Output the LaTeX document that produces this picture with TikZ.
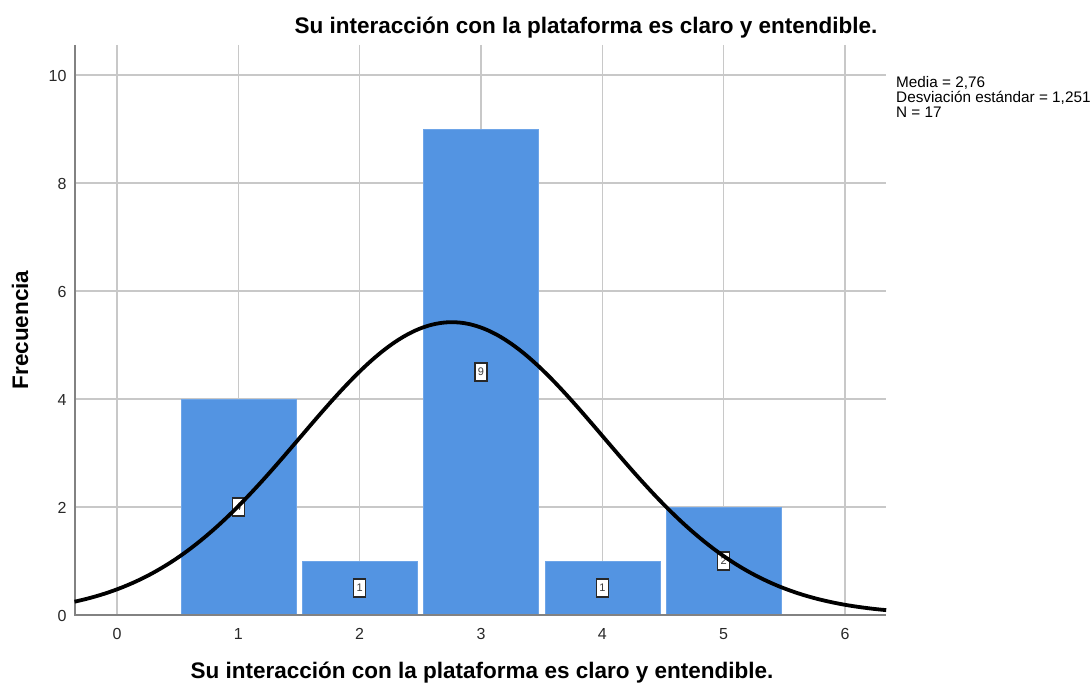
\documentclass[tikz,border=0pt]{standalone}
\usepackage{fontspec}
\setmainfont{Liberation Sans}
\begin{document}
\begin{tikzpicture}[x=1pt,y=-1pt,
  grid/.style={draw={rgb,255:red,200;green,200;blue,200},line width=1.4pt},
  axisline/.style={draw={rgb,255:red,130;green,130;blue,130},line width=1.8pt},
  bar/.style={fill={rgb,255:red,83;green,148;blue,226},draw={rgb,255:red,110;green,165;blue,232},line width=0.6pt},
  tick/.style={font=\fontsize{16}{18}\selectfont,text={rgb,255:red,40;green,40;blue,40}},
  lbl/.style={draw={rgb,255:red,40;green,40;blue,40},fill=white,line width=1.2pt,inner sep=0pt,minimum width=12pt,minimum height=18pt,font=\fontsize{11}{12}\selectfont,text={rgb,255:red,60;green,60;blue,60}},
  curve/.style={draw=black,line width=3.8pt},
  ttl/.style={font=\bfseries\fontsize{22.5}{26}\selectfont}]
\useasboundingbox (0,0) rectangle (1092,684);
% grid
\foreach \v in {0,...,6} {\draw[grid] ({117+121.33*\v},45) -- ({117+121.33*\v},615);}
\foreach \v in {2,4,...,10} {\draw[grid] (75,{615-54*\v}) -- (886,{615-54*\v});}
% bars
\foreach \c/\n in {1/4,2/1,3/9,4/1,5/2} {
  \path[bar] ({117+121.33*\c-57.5},615) rectangle ({117+121.33*\c+57.5},{615-54*\n});
}
% axes
\draw[axisline] (75,45) coordinate (ytop) -- (75,615) coordinate (org) -- (886,615) coordinate (xend);
% labels in bars
\foreach \c/\n in {1/4,2/1,3/9,4/1,5/2} {
  \node[lbl] (b\c) at ({117+121.33*\c},{615-27*\n}) {\n};
}
% normal curve
\draw[curve,line cap=butt] plot[domain=-0.35:6.34,samples=120,smooth] ({117+121.33*\x},{615-54*5.4213*exp(-(\x-2.76)*(\x-2.76)/3.130)});
% tick labels
\foreach \v in {0,2,...,10} {\node[tick,anchor=east] (yl\v) at (70,{616-54*\v}) {\v};}
\foreach \v in {0,...,6} {\node[tick] (xl\v) at ({117+121.33*\v},634) {\v};}
% titles
\node[ttl] (title) at (586,28) {Su interacción con la plataforma es claro y entendible.};
\node[ttl] (xtitle) at (482,673) {Su interacción con la plataforma es claro y entendible.};
\node[ttl,rotate=90] (ytitle) at (20,330) {Frecuencia};
% legend
\node[anchor=north west,align=left,inner sep=0pt,font=\fontsize{15.3}{15}\selectfont] (legend) at (896,76) {Media = 2,76\\Desviación estándar = 1,251\\N = 17};
\end{tikzpicture}
\end{document}
